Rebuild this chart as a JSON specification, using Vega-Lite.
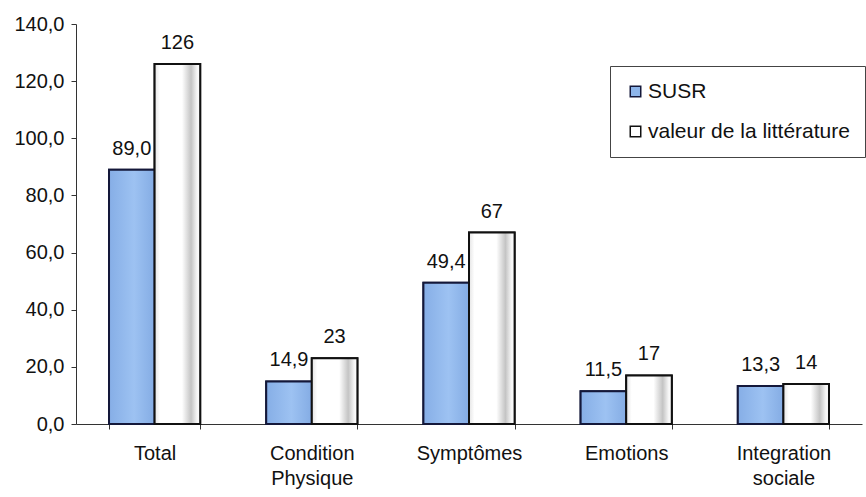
{
  "$schema": "https://vega.github.io/schema/vega-lite/v6.json",
  "width": 786,
  "height": 400,
  "autosize": {"type": "none"},
  "padding": {"left": 76, "top": 24, "right": 4, "bottom": 73},
  "background": "white",
  "config": {
    "view": {"stroke": null},
    "font": "Liberation Sans",
    "axis": {"grid": false, "domainColor": "#333", "tickColor": "#333", "labelColor": "#111", "labelFont": "Liberation Sans", "labelFontSize": 20, "title": null},
    "legend": {"labelFont": "Liberation Sans", "labelFontSize": 21, "labelColor": "#111", "labelLimit": 400}
  },
  "data": {
    "values": [
      {"cat": "Total", "serie": "SUSR", "value": 89.0, "label": "89,0"},
      {"cat": "Total", "serie": "valeur de la littérature", "value": 126, "label": "126"},
      {"cat": "Condition|Physique", "serie": "SUSR", "value": 14.9, "label": "14,9"},
      {"cat": "Condition|Physique", "serie": "valeur de la littérature", "value": 23, "label": "23"},
      {"cat": "Symptômes", "serie": "SUSR", "value": 49.4, "label": "49,4"},
      {"cat": "Symptômes", "serie": "valeur de la littérature", "value": 67, "label": "67"},
      {"cat": "Emotions", "serie": "SUSR", "value": 11.5, "label": "11,5"},
      {"cat": "Emotions", "serie": "valeur de la littérature", "value": 17, "label": "17"},
      {"cat": "Integration|sociale", "serie": "SUSR", "value": 13.3, "label": "13,3"},
      {"cat": "Integration|sociale", "serie": "valeur de la littérature", "value": 14, "label": "14"}
    ]
  },
  "encoding": {
    "x": {
      "field": "cat",
      "type": "nominal",
      "sort": ["Total", "Condition|Physique", "Symptômes", "Emotions", "Integration|sociale"],
      "scale": {"paddingInner": 0.42, "paddingOuter": 0.21},
      "axis": {"labelAngle": 0, "labelExpr": "split(datum.label, '|')", "labelLineHeight": 25, "labelPadding": 14, "tickBand": "extent", "tickSize": 5, "labelBaseline": "top"}
    },
    "xOffset": {"field": "serie", "type": "nominal", "scale": {"domain": ["SUSR", "valeur de la littérature"], "paddingInner": 0}},
    "y": {
      "field": "value",
      "type": "quantitative",
      "scale": {"domain": [0, 140], "nice": false},
      "axis": {"values": [0, 20, 40, 60, 80, 100, 120, 140], "labelExpr": "replace(format(datum.value, '.1f'), '.', ',')", "tickSize": 5, "labelPadding": 7}
    }
  },
  "layer": [
    {
      "mark": {"type": "bar", "strokeWidth": 2},
      "encoding": {
        "fill": {
          "field": "serie",
          "type": "nominal",
          "scale": {"domain": ["SUSR", "valeur de la littérature"], "range": ["#8db5ea", "#ffffff"]},
          "legend": {
            "title": null,
            "orient": "none",
            "legendX": 534,
            "legendY": 42,
            "symbolType": "square",
            "symbolSize": 110,
            "symbolStrokeWidth": 1.5,
            "symbolStrokeColor": "#111",
            "labelOffset": 2,
            "rowPadding": 18,
            "padding": 15,
            "strokeColor": "#444",
            "fillColor": "white"
          }
        },
        "stroke": {"field": "serie", "type": "nominal", "scale": {"domain": ["SUSR", "valeur de la littérature"], "range": ["#14183a", "#111111"]}, "legend": null}
      }
    },
    {
      "transform": [{"filter": "datum.serie === 'SUSR'"}],
      "mark": {
        "type": "bar",
        "stroke": "#14183a",
        "strokeWidth": 2,
        "fill": {"gradient": "linear", "x1": 0, "y1": 0, "x2": 1, "y2": 0, "stops": [
          {"offset": 0, "color": "#86aee6"},
          {"offset": 0.55, "color": "#9dc2f2"},
          {"offset": 1, "color": "#84ace4"}
        ]}
      }
    },
    {
      "transform": [{"filter": "datum.serie !== 'SUSR'"}],
      "mark": {
        "type": "bar",
        "stroke": "#111111",
        "strokeWidth": 2,
        "fill": {"gradient": "linear", "x1": 0, "y1": 0, "x2": 1, "y2": 0, "stops": [
          {"offset": 0, "color": "#e4e4e4"},
          {"offset": 0.12, "color": "#ffffff"},
          {"offset": 0.6, "color": "#ffffff"},
          {"offset": 0.8, "color": "#c4c4c4"},
          {"offset": 0.93, "color": "#f6f6f6"},
          {"offset": 1, "color": "#ffffff"}
        ]}
      }
    },
    {
      "mark": {"type": "text", "baseline": "alphabetic", "dy": -15, "fontSize": 20, "font": "Liberation Sans", "color": "#111"},
      "encoding": {"text": {"field": "label"}}
    }
  ]
}
